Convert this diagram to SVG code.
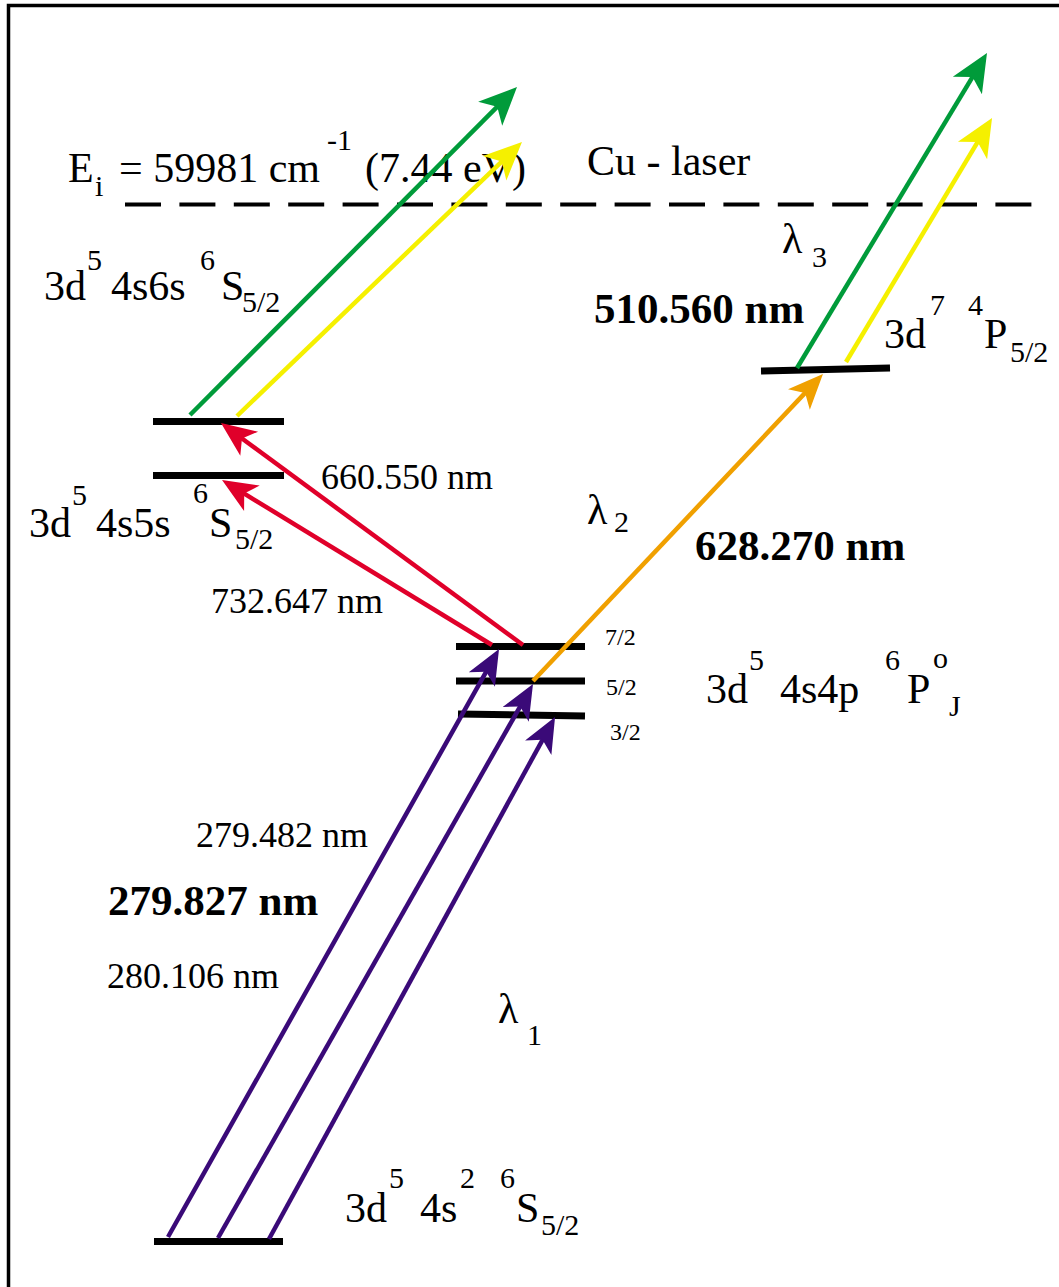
<svg xmlns="http://www.w3.org/2000/svg" width="1059" height="1287" viewBox="0 0 1059 1287">
<style>
text{font-family:"Liberation Serif","Times New Roman",serif;fill:#000}
.m{font-size:42px}
.s{font-size:30px}
.wl{font-size:36px}
.b{font-size:43px;font-weight:bold}
.j{font-size:24px}
.lvl{stroke:#000;stroke-width:7;fill:none}
.sh{fill:none;stroke-width:4.5}
</style>
<defs>
<marker id="hG" markerUnits="userSpaceOnUse" orient="auto" overflow="visible" markerWidth="1" markerHeight="1" refX="0" refY="0"><path d="M18,0 L-20,-17 L-10,0 L-20,17 Z" fill="#009b3a"/></marker>
<marker id="hY" markerUnits="userSpaceOnUse" orient="auto" overflow="visible" markerWidth="1" markerHeight="1" refX="0" refY="0"><path d="M18,0 L-20,-17 L-10,0 L-20,17 Z" fill="#f5f000"/></marker>
<marker id="hR" markerUnits="userSpaceOnUse" orient="auto" overflow="visible" markerWidth="1" markerHeight="1" refX="0" refY="0"><path d="M18,0 L-17,-15 L-8,0 L-17,15 Z" fill="#e0002a"/></marker>
<marker id="hO" markerUnits="userSpaceOnUse" orient="auto" overflow="visible" markerWidth="1" markerHeight="1" refX="0" refY="0"><path d="M18,0 L-17,-15 L-8,0 L-17,15 Z" fill="#f0a000"/></marker>
<marker id="hP" markerUnits="userSpaceOnUse" orient="auto" overflow="visible" markerWidth="1" markerHeight="1" refX="0" refY="0"><path d="M18,0 L-17,-15 L-8,0 L-17,15 Z" fill="#3a0a78"/></marker>
</defs>
<rect width="1059" height="1287" fill="#fff"/>
<path d="M8.5,1287 V5.5 H1059" fill="none" stroke="#000" stroke-width="3.5"/>

<g id="ionization-limit">
<line x1="125" y1="204.5" x2="1032" y2="204.5" stroke="#000" stroke-width="4" stroke-dasharray="36 18.4"/>
<text class="m" x="68" y="182">E</text>
<text class="s" x="95" y="196">i</text>
<text class="m" x="119" y="182">= 59981 cm</text>
<text class="s" x="327" y="150">-1</text>
<text class="m" x="365" y="182">(7.44 eV)</text>
</g>

<g id="cu-laser-label">
<text class="m" x="587" y="175">Cu - laser</text>
</g>

<g id="level-ground">
<line class="lvl" x1="154" y1="1241.5" x2="283" y2="1241.5"/>
<text class="m" x="345" y="1222">3d</text>
<text class="s" x="389" y="1188">5</text>
<text class="m" x="420" y="1222">4s</text>
<text class="s" x="460" y="1188">2</text>
<text class="s" x="500" y="1188">6</text>
<text class="m" x="516" y="1222">S</text>
<text class="s" x="541" y="1235">5/2</text>
</g>

<g id="level-6P">
<line class="lvl" x1="456" y1="646.5" x2="585" y2="646.5"/>
<line class="lvl" x1="456" y1="681" x2="585" y2="681"/>
<line class="lvl" x1="458" y1="714" x2="585" y2="716"/>
<text class="j" x="605" y="645">7/2</text>
<text class="j" x="606" y="695">5/2</text>
<text class="j" x="610" y="740">3/2</text>
<text class="m" x="706" y="703">3d</text>
<text class="s" x="749" y="670">5</text>
<text class="m" x="780" y="703">4s4p</text>
<text class="s" x="885" y="670">6</text>
<text class="m" x="907" y="703">P</text>
<text class="s" x="933" y="668">o</text>
<text class="s" x="949" y="716">J</text>
</g>

<g id="level-4s5s">
<line class="lvl" x1="153" y1="475.5" x2="284" y2="475.5"/>
<text class="m" x="29" y="537">3d</text>
<text class="s" x="72" y="505">5</text>
<text class="m" x="96" y="537">4s5s</text>
<text class="s" x="193" y="503">6</text>
<text class="m" x="209" y="537">S</text>
<text class="s" x="235" y="549">5/2</text>
</g>

<g id="level-4s6s">
<line class="lvl" x1="153" y1="421.5" x2="284" y2="421.5"/>
<text class="m" x="44" y="300">3d</text>
<text class="s" x="87" y="270">5</text>
<text class="m" x="111" y="300">4s6s</text>
<text class="s" x="200" y="270">6</text>
<text class="m" x="221" y="300">S</text>
<text class="s" x="242" y="312">5/2</text>
</g>

<g id="level-4P">
<line class="lvl" x1="761" y1="371" x2="890" y2="368"/>
<text class="m" x="884" y="348">3d</text>
<text class="s" x="930" y="315">7</text>
<text class="s" x="968" y="315">4</text>
<text class="m" x="984" y="348">P</text>
<text class="s" x="1010" y="362">5/2</text>
</g>

<g id="connectors">
<line class="sh" stroke="#3a0a78" x1="168" y1="1237" x2="490.2" y2="664.7" marker-end="url(#hP)"/>
<line class="sh" stroke="#3a0a78" x1="218" y1="1238" x2="524.1" y2="699.6" marker-end="url(#hP)"/>
<line class="sh" stroke="#3a0a78" x1="269" y1="1239" x2="546.4" y2="732.8" marker-end="url(#hP)"/>
<line class="sh" stroke="#e0002a" x1="523" y1="645" x2="235.5" y2="433.7" marker-end="url(#hR)"/>
<line class="sh" stroke="#e0002a" x1="492" y1="645" x2="237.4" y2="489.4" marker-end="url(#hR)"/>
<line class="sh" stroke="#f0a000" x1="533" y1="681" x2="810.6" y2="387.1" marker-end="url(#hO)"/>
<line class="sh" stroke="#009b3a" x1="190" y1="415" x2="504.3" y2="99.7" marker-end="url(#hG)"/>
<line class="sh" stroke="#f5f000" x1="237" y1="416" x2="509" y2="154.5" marker-end="url(#hY)"/>
<line class="sh" stroke="#009b3a" x1="797" y1="368" x2="977.7" y2="68.4" marker-end="url(#hG)"/>
<line class="sh" stroke="#f5f000" x1="846" y1="362" x2="982.8" y2="133.4" marker-end="url(#hY)"/>
</g>

<g id="transition-labels">
<text class="wl" x="196" y="847">279.482 nm</text>
<text class="b" x="108" y="915">279.827 nm</text>
<text class="wl" x="107" y="988">280.106 nm</text>
<text class="m" x="498" y="1023">λ</text>
<text class="s" x="527" y="1045">1</text>
<text class="wl" x="321" y="489">660.550 nm</text>
<text class="wl" x="211" y="613">732.647 nm</text>
<text class="m" x="587" y="524">λ</text>
<text class="s" x="614" y="532">2</text>
<text class="b" x="695" y="560">628.270 nm</text>
<text class="m" x="782" y="253">λ</text>
<text class="s" x="812" y="267">3</text>
<text class="b" x="594" y="323">510.560 nm</text>
</g>
</svg>
